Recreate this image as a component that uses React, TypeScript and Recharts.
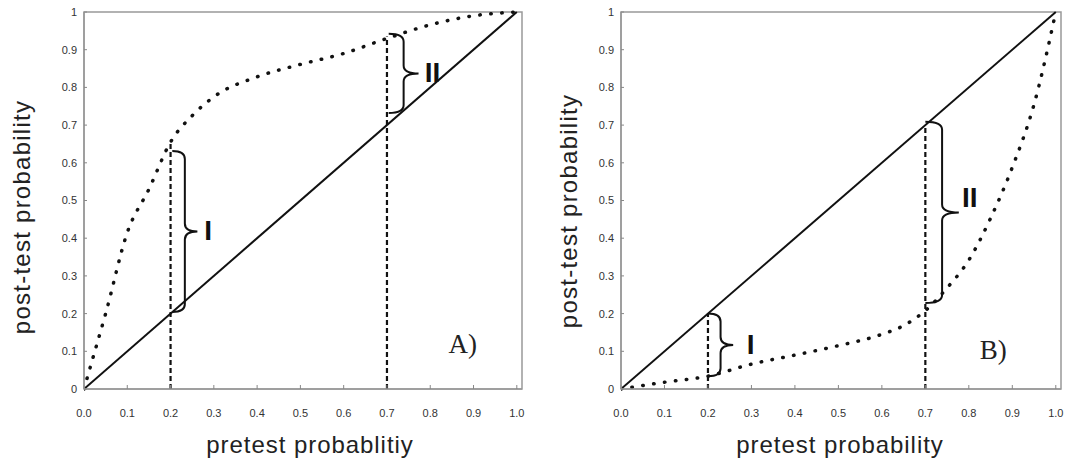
import React from "react"
import {
  LineChart,
  Line,
  XAxis,
  YAxis,
  ReferenceLine,
  ReferenceArea,
  ReferenceDot,
} from "recharts"

const SANS = "'Liberation Sans', Arial, sans-serif"
const SERIF = "'Liberation Serif', 'Times New Roman', serif"

const xTicks = [0, 0.1, 0.2, 0.3, 0.4, 0.5, 0.6, 0.7, 0.8, 0.9, 1.0]
const yTicks = [0, 0.1, 0.2, 0.3, 0.4, 0.5, 0.6, 0.7, 0.8, 0.9, 1]

// line of identity (post-test = pretest)
const identityPretest = [0, 1]
const identityPosttest = [0, 1]

// panel A: positive test, dotted curve above the diagonal
const pretestA = [0, 0.02, 0.05, 0.1, 0.15, 0.2, 0.25, 0.3, 0.4, 0.5, 0.6, 0.7, 0.8, 0.9, 1.0]
const posttestA = [0, 0.08, 0.2, 0.415, 0.53, 0.655, 0.725, 0.775, 0.828, 0.861, 0.89, 0.93, 0.966, 0.99, 1.0]

// panel B: negative test, dotted curve below the diagonal
const pretestB = [0, 0.1, 0.2, 0.3, 0.4, 0.5, 0.6, 0.65, 0.7, 0.75, 0.8, 0.85, 0.9, 0.95, 1.0]
const posttestB = [0, 0.018, 0.034, 0.066, 0.09, 0.115, 0.145, 0.168, 0.208, 0.268, 0.342, 0.453, 0.588, 0.755, 1.0]

// dashed drop lines at the example pretest probabilities
const markerPretest = [0.2, 0.7]
const markerTopA = [0.655, 0.935]
const markerTopB = [0.2, 0.7]

// braces: pretest from/to, post-test from/to
const braceNames = ["I", "II"]
const bracesA = [
  [0.204, 0.262, 0.204, 0.631],
  [0.704, 0.773, 0.732, 0.942],
]
const bracesB = [
  [0.2, 0.258, 0.034, 0.2],
  [0.7, 0.777, 0.228, 0.709],
]
const braceLabelA = [
  [0.287, 0.422],
  [0.805, 0.841],
]
const braceLabelB = [
  [0.298, 0.12],
  [0.802, 0.51],
]

const toPoints = (xs: number[], ys: number[]) => xs.map((x, i) => ({ x, y: ys[i] }))

const Brace = (props: any) => {
  const { x, y, width: w, height: h } = props
  const sx = x + w * 0.5
  const r = Math.min(w * 0.5, 8)
  const my = y + h / 2
  const d = [
    `M${x},${y}`,
    `Q${sx},${y} ${sx},${y + r}`,
    `L${sx},${my - r}`,
    `Q${sx},${my} ${x + w},${my}`,
    `Q${sx},${my} ${sx},${my + r}`,
    `L${sx},${y + h - r}`,
    `Q${sx},${y + h} ${x},${y + h}`,
  ].join(" ")
  return <path d={d} fill="none" stroke="#111" strokeWidth={2} />
}

interface PanelProps {
  width: number
  yAxisWidth: number
  rightMargin: number
  pretest: number[]
  posttest: number[]
  markerTops: number[]
  braces: number[][]
  braceLabels: number[][]
  letter: string
  letterPos: number[]
  xTitle: string
  yTitleX: number
  yTitleY: number
}

function Panel(p: PanelProps) {
  const yTitle = () => (
    <text
      x={p.yTitleX}
      y={p.yTitleY}
      transform={`rotate(-90 ${p.yTitleX} ${p.yTitleY})`}
      textAnchor="middle"
      fontSize={24}
      letterSpacing={1.25}
      fill="#222"
      fontFamily={SANS}
    >
      post-test probability
    </text>
  )
  const xTitle = () => (
    <text x={310} y={453} textAnchor="middle" fontSize={24} letterSpacing={0.95} fill="#222" fontFamily={SANS}>
      {p.xTitle}
    </text>
  )

  return (
    <LineChart width={p.width} height={466} margin={{ top: 12, right: p.rightMargin, bottom: 0, left: 0 }}>
      <XAxis
        type="number"
        dataKey="x"
        domain={[0, 1.012]}
        ticks={xTicks}
        interval={0}
        allowDataOverflow
        height={77}
        tickFormatter={(v: number) => v.toFixed(1)}
        tick={{ fontSize: 11, fill: "#333", fontFamily: SANS }}
        tickSize={-4}
        tickMargin={24}
        axisLine={{ stroke: "#999", strokeWidth: 1.5 }}
        tickLine={{ stroke: "#888" }}
        label={{ content: xTitle }}
      />
      <YAxis
        type="number"
        dataKey="y"
        domain={[0, 1]}
        ticks={yTicks}
        interval={0}
        width={p.yAxisWidth}
        tickFormatter={(v: number) => String(v)}
        tick={{ fontSize: 11, fill: "#333", fontFamily: SANS }}
        tickSize={-3}
        tickMargin={10}
        axisLine={{ stroke: "#999", strokeWidth: 1.5 }}
        tickLine={{ stroke: "#888" }}
        label={{ content: yTitle }}
      />
      <ReferenceArea x1={0} x2={1.012} y1={0} y2={1} fill="none" stroke="#999" strokeWidth={1.5} />
      {markerPretest.map((m, i) => (
        <ReferenceLine
          key={`m-${i}`}
          segment={[
            { x: m, y: 0 },
            { x: m, y: p.markerTops[i] },
          ]}
          stroke="#111"
          strokeWidth={2.2}
          strokeDasharray="5 3"
        />
      ))}
      {p.braces.map((b, i) => (
        <ReferenceArea key={`b-${i}`} x1={b[0]} x2={b[1]} y1={b[2]} y2={b[3]} shape={<Brace />} />
      ))}
      {p.braceLabels.map((l, i) => (
        <ReferenceDot
          key={`l-${i}`}
          x={l[0]}
          y={l[1]}
          r={0}
          fill="none"
          stroke="none"
          label={{
            value: braceNames[i],
            position: "center",
            fontSize: 28,
            fontWeight: 700,
            fill: "#111",
            fontFamily: SANS,
          }}
        />
      ))}
      <ReferenceDot
        x={p.letterPos[0]}
        y={p.letterPos[1]}
        r={0}
        fill="none"
        stroke="none"
        label={{ value: p.letter, position: "center", fontSize: 27, fill: "#222", fontFamily: SERIF }}
      />
      <Line
        data={toPoints(identityPretest, identityPosttest)}
        dataKey="y"
        type="linear"
        stroke="#111"
        strokeWidth={2}
        dot={false}
        isAnimationActive={false}
      />
      <Line
        data={toPoints(p.pretest, p.posttest)}
        dataKey="y"
        type="monotone"
        stroke="#111"
        strokeWidth={3.5}
        strokeDasharray="0.5 10.5"
        strokeLinecap="round"
        dot={false}
        isAnimationActive={false}
      />
    </LineChart>
  )
}

export default function App() {
  return (
    <div style={{ position: "absolute", left: 0, top: 0, width: 1067, height: 466, background: "#fff", display: "flex" }}>
      <Panel
        width={530}
        yAxisWidth={84}
        rightMargin={8}
        pretest={pretestA}
        posttest={posttestA}
        markerTops={markerTopA}
        braces={bracesA}
        braceLabels={braceLabelA}
        letter="A)"
        letterPos={[0.875, 0.122]}
        xTitle="pretest probablitiy"
        yTitleX={30}
        yTitleY={217}
      />
      <Panel
        width={537}
        yAxisWidth={91}
        rightMargin={6}
        pretest={pretestB}
        posttest={posttestB}
        markerTops={markerTopB}
        braces={bracesB}
        braceLabels={braceLabelB}
        letter="B)"
        letterPos={[0.856, 0.106]}
        xTitle="pretest probability"
        yTitleX={47}
        yTitleY={211}
      />
    </div>
  )
}
